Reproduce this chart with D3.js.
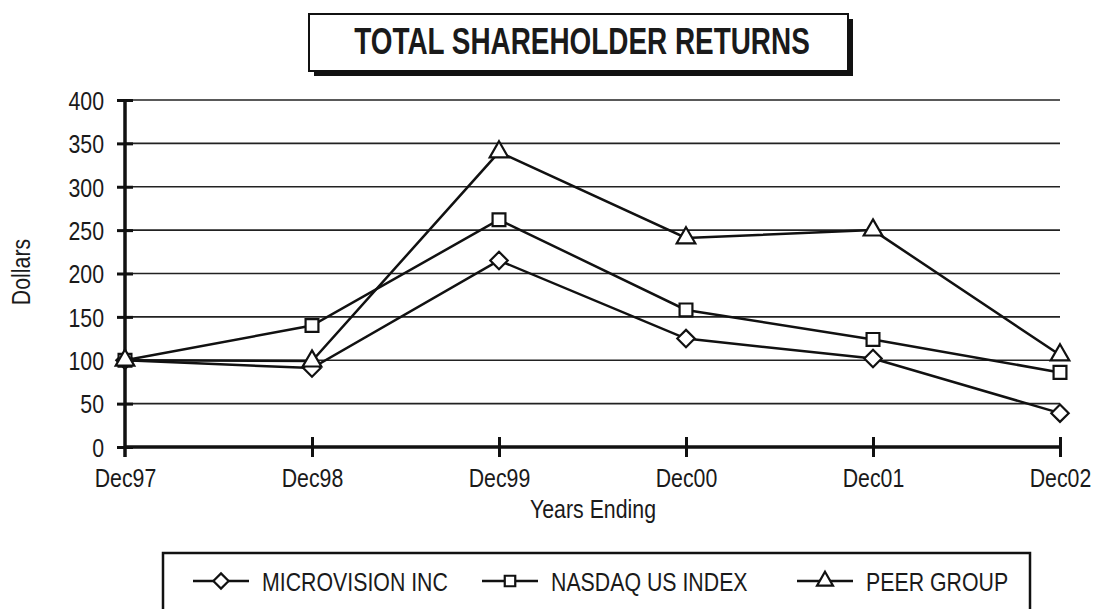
<!DOCTYPE html>
<html>
<head>
<meta charset="utf-8">
<script src="https://cdn.jsdelivr.net/npm/d3@7"></script>
<style>
  body { margin: 0; background: #fff; }
  svg { display: block; }
  text { font-family: "Liberation Sans", Arial, sans-serif; fill: #1a1a1a; }
</style>
</head>
<body>
<svg id="chart"></svg>
<script>
let years = ['Dec97', 'Dec98', 'Dec99', 'Dec00', 'Dec01', 'Dec02']
let yTicks = [0, 50, 100, 150, 200, 250, 300, 350, 400]

let microvision = [100, 91, 215, 125, 102, 39]
let nasdaq = [100, 140, 262, 158, 124, 86]
let peer = [100, 99, 340, 241, 250, 106]

let seriesNames = ['MICROVISION INC', 'NASDAQ US INDEX', 'PEER GROUP']

let width = 1094
let height = 609
let squeeze = 0.82   // condensed look of the original type

let svg = d3.select('#chart')
    .attr('width', width)
    .attr('height', height)

let xScale = d3.scalePoint()
    .domain(years)
    .range([125, 1060])

let yScale = d3.scaleLinear()
    .domain([0, 400])
    .range([447, 100])

// text squeezed horizontally around its anchor point
let label = (x, y, txt, size, anchor, extra, sq) => {
    let g = svg.append('g')
        .attr('transform', 'translate(' + x + ',' + y + ')' + (extra || '') + ' scale(' + (sq || squeeze) + ',1)')
    return g.append('text')
        .attr('text-anchor', anchor)
        .style('font-size', size + 'px')
        .text(txt)
}

// title box with drop shadow
svg.append('rect')
    .attr('x', 314).attr('y', 19)
    .attr('width', 539).attr('height', 57)
    .attr('fill', '#111')
svg.append('rect')
    .attr('x', 309).attr('y', 14)
    .attr('width', 539).attr('height', 57)
    .attr('fill', '#fff')
    .attr('stroke', '#111')
    .attr('stroke-width', 2)
label(582, 54, 'TOTAL SHAREHOLDER RETURNS', 36, 'middle', '', 0.775)
    .style('font-weight', 'bold')

// gridlines
svg.append('g')
    .selectAll('line')
    .data(yTicks.filter(d => d > 0))
    .enter()
    .append('line')
    .attr('x1', xScale('Dec97'))
    .attr('x2', xScale('Dec02'))
    .attr('y1', d => yScale(d))
    .attr('y2', d => yScale(d))
    .attr('stroke', '#222')
    .attr('stroke-width', 1.6)

// y axis
let yAxis = d3.axisLeft(yScale)
    .tickValues(yTicks)
    .tickSize(16)

let yg = svg.append('g')
    .attr('transform', 'translate(' + (xScale('Dec97') + 8) + ', 0)')
    .call(yAxis)
yg.select('.domain').remove()
yg.selectAll('.tick line').attr('stroke', '#111').attr('stroke-width', 3)
yg.selectAll('.tick text')
    .style('font-size', '26px')
    .attr('x', -29 / squeeze)
    .attr('dy', '0.36em')
    .attr('transform', 'scale(' + squeeze + ',1)')

svg.append('line')
    .attr('x1', xScale('Dec97')).attr('x2', xScale('Dec97'))
    .attr('y1', yScale(400) - 1).attr('y2', yScale(0) + 10)
    .attr('stroke', '#111').attr('stroke-width', 3.5)

// x axis
let xAxis = d3.axisBottom(xScale)
    .tickSize(20)

let xg = svg.append('g')
    .attr('transform', 'translate(0, ' + (yScale(0) - 10) + ')')
    .call(xAxis)
xg.select('.domain').remove()
xg.selectAll('.tick line')
    .attr('stroke', '#111').attr('stroke-width', 3)
    .attr('opacity', (d, i) => i === 0 ? 0 : 1)
xg.selectAll('.tick text')
    .style('font-size', '26px')
    .attr('y', 50)
    .attr('dy', 0)
    .attr('transform', 'scale(' + squeeze + ',1)')

svg.append('line')
    .attr('x1', xScale('Dec97')).attr('x2', xScale('Dec02'))
    .attr('y1', yScale(0)).attr('y2', yScale(0))
    .attr('stroke', '#111').attr('stroke-width', 3.5)

// axis titles
label(593, 518, 'Years Ending', 26, 'middle')
label(30, 272, 'Dollars', 26, 'middle', ' rotate(-90)')

// series lines and markers
let diamond = {
    draw: (ctx, size) => {
        let r = Math.sqrt(size) / 1.5
        ctx.moveTo(0, -r)
        ctx.lineTo(r, 0)
        ctx.lineTo(0, r)
        ctx.lineTo(-r, 0)
        ctx.closePath()
    }
}
let symbols = [diamond, d3.symbolSquare, d3.symbolTriangle]
let symbolSizes = [170, 165, 150]
let allSeries = [microvision, nasdaq, peer]

let line = d3.line()
    .x((d, i) => xScale(years[i]))
    .y(d => yScale(d))

allSeries.forEach((values) => {
    svg.append('path')
        .datum(values)
        .attr('d', line)
        .attr('fill', 'none')
        .attr('stroke', '#111')
        .attr('stroke-width', 2.5)
})

allSeries.forEach((values, s) => {
    svg.append('g')
        .selectAll('path')
        .data(values)
        .enter()
        .append('path')
        .attr('d', d3.symbol().type(symbols[s]).size(symbolSizes[s]))
        .attr('transform', (d, i) => 'translate(' + xScale(years[i]) + ',' + yScale(d) + ')')
        .attr('fill', '#fff')
        .attr('stroke', '#111')
        .attr('stroke-width', 2.2)
})

// legend
svg.append('rect')
    .attr('x', 163).attr('y', 553)
    .attr('width', 867).attr('height', 70)
    .attr('fill', '#fff')
    .attr('stroke', '#111')
    .attr('stroke-width', 2.5)

let legendX = [221, 510, 825]
let legendSizes = [130, 110, 110]
seriesNames.forEach((name, s) => {
    let g = svg.append('g')
        .attr('transform', 'translate(' + legendX[s] + ', 581)')
    g.append('line')
        .attr('x1', -28).attr('x2', 28)
        .attr('stroke', '#111').attr('stroke-width', 2.5)
    g.append('path')
        .attr('d', d3.symbol().type(symbols[s]).size(legendSizes[s]))
        .attr('fill', '#fff')
        .attr('stroke', '#111')
        .attr('stroke-width', 2.2)
    label(legendX[s] + 41, 591, name, 26, 'start')
})
</script>
</body>
</html>
